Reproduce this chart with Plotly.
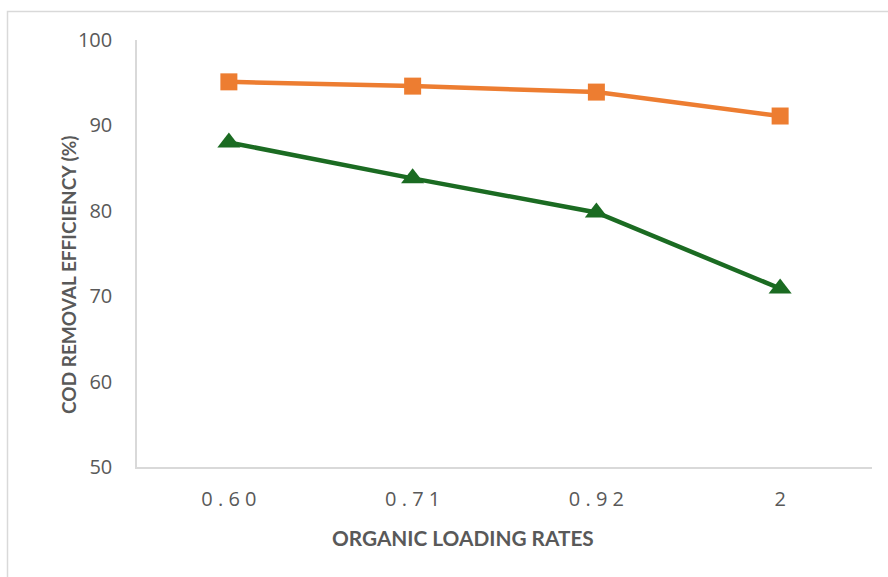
import plotly.graph_objects as go

# Organic loading rates (categories) and COD removal efficiency (%) for two series
loading_rates = ["0.60", "0.71", "0.92", "2"]
removal_orange = [95.1, 94.6, 93.9, 91.1]
removal_green = [88.0, 83.8, 79.8, 70.9]
y_ticks = [50, 60, 70, 80, 90, 100]

ORANGE = "#ED7D31"
GREEN = "#1B6B22"
AXIS_GREY = "#D9D9D9"
TEXT_GREY = "#595959"
FONT = "Open Sans"
TITLE_FONT = "Lato"

W, H = 888, 577
L, R, T, B = 137, 16, 40, 110
pw, ph = W - L - R, H - T - B


def px_x(x):
    return (x - L) / pw


def px_y(y):
    return (H - B - y) / ph


fig = go.Figure()
fig.add_trace(go.Scatter(
    x=loading_rates, y=removal_orange, mode="lines+markers",
    line=dict(color=ORANGE, width=4.5),
    marker=dict(symbol="square", size=17, color=ORANGE),
    showlegend=False, cliponaxis=False,
))
fig.add_trace(go.Scatter(
    x=loading_rates, y=removal_green, mode="lines+markers",
    line=dict(color=GREEN, width=4.5),
    marker=dict(symbol="triangle-up", size=20, color=GREEN),
    showlegend=False, cliponaxis=False,
))

# spaced-out category labels
tick_text = [" ".join(c) for c in loading_rates]

fig.update_layout(
    width=W, height=H,
    margin=dict(l=L, r=R, t=T, b=B),
    paper_bgcolor="white", plot_bgcolor="white",
    font=dict(family=FONT, color=TEXT_GREY),
    xaxis=dict(
        type="category", tickvals=loading_rates, ticktext=tick_text,
        showgrid=False, zeroline=False, showline=True,
        linecolor=AXIS_GREY, linewidth=1.5, ticks="",
        tickfont=dict(size=20, color=TEXT_GREY, family=FONT),
        ticklabelstandoff=13, range=[-0.5, 3.5],
    ),
    yaxis=dict(
        range=[50, 100], tickvals=y_ticks,
        showgrid=False, zeroline=False, showline=True,
        linecolor=AXIS_GREY, linewidth=1.5, ticks="",
        tickfont=dict(size=20, color=TEXT_GREY, family=FONT),
        ticklabelstandoff=19,
    ),
    shapes=[dict(
        type="rect", xref="paper", yref="paper",
        x0=px_x(7.5), x1=px_x(892), y0=px_y(11.5), y1=px_y(585),
        line=dict(color=AXIS_GREY, width=1.5), fillcolor="rgba(0,0,0,0)",
        layer="below",
    )],
    annotations=[
        dict(text="<b>ORGANIC LOADING RATES</b>", xref="paper", yref="paper",
             x=px_x(463), y=px_y(537), xanchor="center", yanchor="middle",
             showarrow=False,
             font=dict(size=20.8, color=TEXT_GREY, family=TITLE_FONT)),
        dict(text="<b>COD REMOVAL EFFICIENCY (%)</b>", xref="paper", yref="paper",
             x=px_x(68), y=px_y(275), xanchor="center", yanchor="middle",
             showarrow=False, textangle=-90,
             font=dict(size=19, color=TEXT_GREY, family=TITLE_FONT)),
    ],
)

fig.write_html("out.html")
